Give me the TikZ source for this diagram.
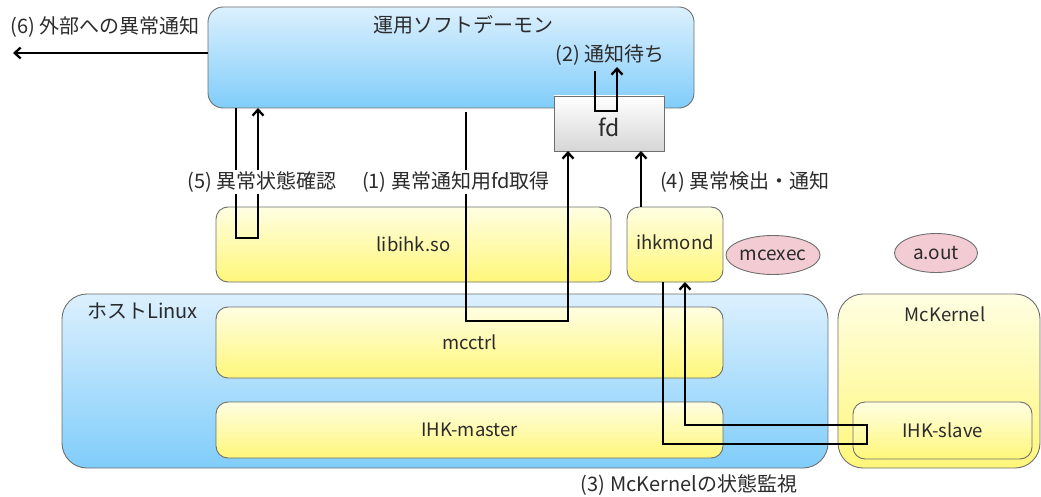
\documentclass[tikz,border=0pt]{standalone}
\usepackage{fontspec}
\setmainfont{Noto Sans CJK JP}
\usetikzlibrary{arrows.meta,shapes.geometric,calc}
\definecolor{bltop}{HTML}{DCF0FE}
\definecolor{blbot}{HTML}{80CDFA}
\definecolor{yetop}{HTML}{FFFEE2}
\definecolor{yebot}{HTML}{FFF77A}
\definecolor{fdbot}{HTML}{D6D6D6}
\definecolor{pinkf}{HTML}{F3CCD3}
\definecolor{edge}{HTML}{6E6E6E}
\definecolor{txt}{HTML}{2B2B2B}
\begin{document}
\begin{tikzpicture}[x=1pt,y=-1pt,
  font=\fontsize{20}{24}\selectfont, text=txt,
  box/.style={draw=edge, line width=0.9pt, anchor=north west, inner sep=0pt, outer sep=0pt},
  bluebox/.style={box, top color=bltop, bottom color=blbot},
  yelbox/.style={box, top color=yetop, bottom color=yebot},
  fdbox/.style={box, top color=white, bottom color=fdbot},
  proc/.style={ellipse, draw=edge, line width=0.9pt, fill=pinkf, minimum width=83pt, minimum height=39pt, inner sep=0pt, font=\fontsize{19}{22}\selectfont},
  arr/.style={line width=2.7pt, -{Straight Barb[length=6pt,width=11pt,line width=2.3pt]}},
  lbl/.style={inner sep=1pt},
  latin/.style={inner sep=1pt, font=\fontsize{18.5}{22}\selectfont},
  cut/.style={fill=white, inner sep=2pt}]
\useasboundingbox (0,0) rectangle (1041,497);

% boxes
\node[bluebox, rounded corners=15pt, minimum width=486pt, minimum height=101pt] (daemon) at (208,7) {};
\node[lbl] (daemontitle) at (463,25) {運用ソフトデーモン};
\node[lbl] (waitlbl) at (610,55) {(2) 通知待ち};
\node[fdbox, minimum width=110pt, minimum height=55pt] (fd) at (554,96) {};
\node[lbl] (fdtxt) at (609,127) {\fontsize{23}{26}\selectfont fd};

\node[yelbox, rounded corners=12pt, minimum width=395pt, minimum height=75pt] (libihk) at (216,207) {};
\node[latin] at (libihk.center) {libihk.so};
\node[yelbox, rounded corners=12pt, minimum width=96pt, minimum height=75pt] (ihkmond) at (627,207) {};
\node[latin] at ([yshift=2pt]ihkmond.center) {ihkmond};

\node[proc] (mcexec) at (773,255) {mcexec};
\node[proc] (aout) at (936,253) {a.out};

\node[bluebox, rounded corners=25pt, minimum width=766pt, minimum height=174pt] (host) at (62,294) {};
\node[lbl, anchor=west] (hostlbl) at (86,311) {ホストLinux};
\node[yelbox, rounded corners=12pt, minimum width=507pt, minimum height=71pt] (mcctrl) at (216,307) {};
\node[latin] at (mcctrl.center) {mcctrl};
\node[yelbox, rounded corners=12pt, minimum width=507pt, minimum height=56pt] (ihkmaster) at (216,402) {};
\node[latin] at (ihkmaster.center) {IHK-master};

\node[yelbox, rounded corners=25pt, minimum width=202pt, minimum height=174pt] (mck) at (838,294) {};
\node[latin] (mcklbl) at (945,314) {McKernel};
\node[yelbox, rounded corners=12pt, minimum width=179pt, minimum height=57pt] (ihkslave) at (853,402) {};
\node[latin] at (ihkslave.center) {IHK-slave};

% connectors
% (6)
\coordinate (out6) at (13,53);
\draw[arr] ([yshift=4.5pt]daemon.west) -- (out6);
\node[lbl] (l6) at (105,27) {(6) 外部への異常通知};

% (2) wait loop
\coordinate (w1) at (595,71);
\coordinate (w2) at (595,111);
\coordinate (w3) at (617,111);
\coordinate (w4) at (617,67);
\draw[arr] (w1) -- (w2) -- (w3) -- (w4);

% (5)
\coordinate (s1) at (236,238);
\coordinate (s2) at (258,238);
\draw[arr] ([xshift=28pt]daemon.south west) -- (s1) -- (s2) -- ([xshift=50pt]daemon.south west);

% (1)
\coordinate (g1) at (466,321);
\coordinate (g2) at (568,321);
\draw[arr] ([xshift=258pt,yshift=-4pt]daemon.south west) -- (g1) -- (g2) -- ([xshift=14pt]fd.south west);

% (4)
\draw[arr] ([xshift=14pt]ihkmond.north west) -- ([xshift=87pt]fd.south west);

% (3)
\coordinate (m1) at (663,444);
\coordinate (m2) at (867,444);
\coordinate (m3) at (867,425);
\coordinate (m4) at (685,425);
\draw[arr] ([xshift=36pt]ihkmond.south west) -- (m1) -- (m2) -- (m3) -- (m4) -- ([xshift=58pt]ihkmond.south west);

% labels
\node[cut] (l5) at (262,182) {(5) 異常状態確認};
\node[cut] (l1) at (456,182) {(1) 異常通知用fd取得};
\node[lbl, anchor=west] (l4) at (659,182) {(4) 異常検出・通知};
\node[lbl] (l3) at (689,485) {(3) McKernelの状態監視};
\end{tikzpicture}
\end{document}
